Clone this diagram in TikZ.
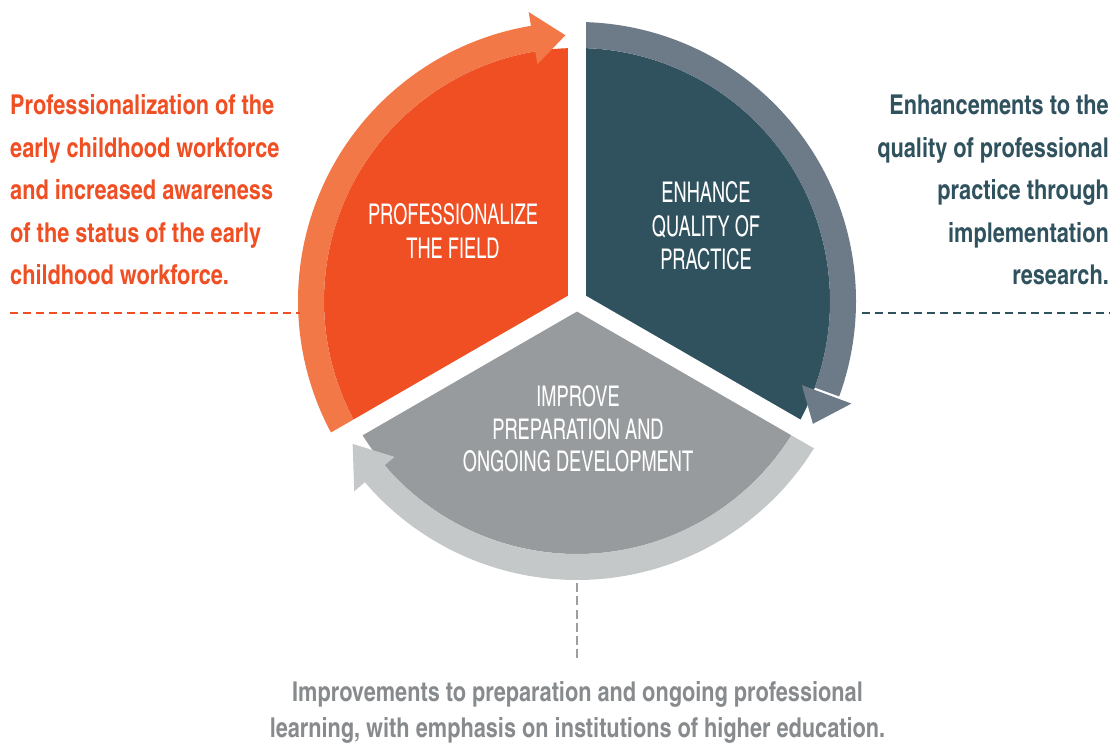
\documentclass[tikz,border=0pt]{standalone}
\usepackage{fontspec}
\newfontfamily\cnreg{texgyreheroscn-regular.otf}[FakeStretch=0.78]
\newfontfamily\cnbold{texgyreheroscn-bold.otf}[FakeStretch=0.97]
\definecolor{orfill}{HTML}{F04E23}
\definecolor{orring}{HTML}{F37848}
\definecolor{blfill}{HTML}{2F525E}
\definecolor{blring}{HTML}{6D7A87}
\definecolor{grfill}{HTML}{979B9D}
\definecolor{grring}{HTML}{C5C8C9}
\definecolor{grtext}{HTML}{878B8D}
\definecolor{grdash}{HTML}{9B9FA1}
\tikzset{
  outtext/.style={inner sep=0pt, font=\cnbold\fontsize{27.3}{27.3}\selectfont},
  intext/.style={inner sep=0pt, anchor=base, text=white, font=\cnreg\fontsize{28.5}{28.5}\selectfont},
  dashline/.style={line width=2pt, dash pattern=on 8pt off 5pt},
  gapline/.style={white, line width=18pt}
}
\begin{document}
\begin{tikzpicture}[x=1pt,y=1pt]
\useasboundingbox (0,0) rectangle (1114,749);
\coordinate (C) at (577,448);
\begin{scope}[shift={(C)}]
  % filled sectors
  \fill[orfill] (0,0) -- (90:253) arc[start angle=90,end angle=210,radius=253] -- cycle;
  \fill[blfill] (0,0) -- (-30:253) arc[start angle=-30,end angle=90,radius=253] -- cycle;
  \fill[grfill] (0,0) -- (210:253) arc[start angle=210,end angle=330,radius=253] -- cycle;
  % rings with arrowheads
  \fill[orring] (210:253) arc[start angle=210,end angle=99,radius=253] -- (99:279) arc[start angle=99,end angle=210,radius=279] -- cycle;
  \fill[orring] (99.5:240) -- (92.5:266) -- (99.5:293) -- cycle;
  \fill[blring] (90:253) arc[start angle=90,end angle=-20,radius=253] -- (-20:279) arc[start angle=-20,end angle=90,radius=279] -- cycle;
  \fill[blring] (-20.5:240) -- (-27.5:266) -- (-20.5:293) -- cycle;
  \fill[grring] (-30:253) arc[start angle=-30,end angle=-140,radius=253] -- (-140:279) arc[start angle=-140,end angle=-30,radius=279] -- cycle;
  \fill[grring] (-139.5:240) -- (-147.5:266) -- (-139.5:293) -- cycle;
  % gaps
  \draw[gapline] (0,0) -- (90:300);
  \draw[gapline] (0,0) -- (210:300);
  \draw[gapline] (0,0) -- (-30:300);
\end{scope}
% labels inside
\node[intext] (p1) at (453,524) {PROFESSIONALIZE};
\node[intext] (p2) at (453,490) {THE FIELD};
\node[intext] (e1) at (706,546) {ENHANCE};
\node[intext] (e2) at (706,512) {QUALITY OF};
\node[intext] (e3) at (706,479) {PRACTICE};
\node[intext] (i1) at (578,342) {IMPROVE};
\node[intext] (i2) at (578,309) {PREPARATION AND};
\node[intext] (i3) at (578,277) {ONGOING DEVELOPMENT};
% left text
\foreach [count=\i] \t in {Professionalization of the, early childhood workforce, and increased awareness, of the status of the early, childhood workforce.}
  \node[outtext, text=orfill, anchor=base west] (L\i) at (10,{634-(\i-1)*42.5}) {\t};
% right text
\foreach [count=\i] \t in {Enhancements to the, quality of professional, practice through, implementation, research.}
  \node[outtext, text=blfill, anchor=base east] (R\i) at (1109,{634-(\i-1)*42.5}) {\t};
% bottom text
\node[outtext, text=grtext, anchor=base] (B1) at (577.5,47) {Improvements to preparation and ongoing professional};
\node[outtext, text=grtext, anchor=base] (B2) at (577.5,11) {learning, with emphasis on institutions of higher education.};
% dashed lines
\coordinate (LD1) at (10,436);
\coordinate (LD2) at (300,436);
\coordinate (RD1) at (862,436);
\coordinate (RD2) at (1110,436);
\coordinate (BD1) at (577,166);
\coordinate (BD2) at (577,91);
\draw[dashline, orfill] (LD1) -- (LD2);
\draw[dashline, blfill] (RD1) -- (RD2);
\draw[dashline, grdash, line width=2.6pt, dash pattern=on 9pt off 4.3pt] (BD1) -- (BD2);
\end{tikzpicture}
\end{document}
